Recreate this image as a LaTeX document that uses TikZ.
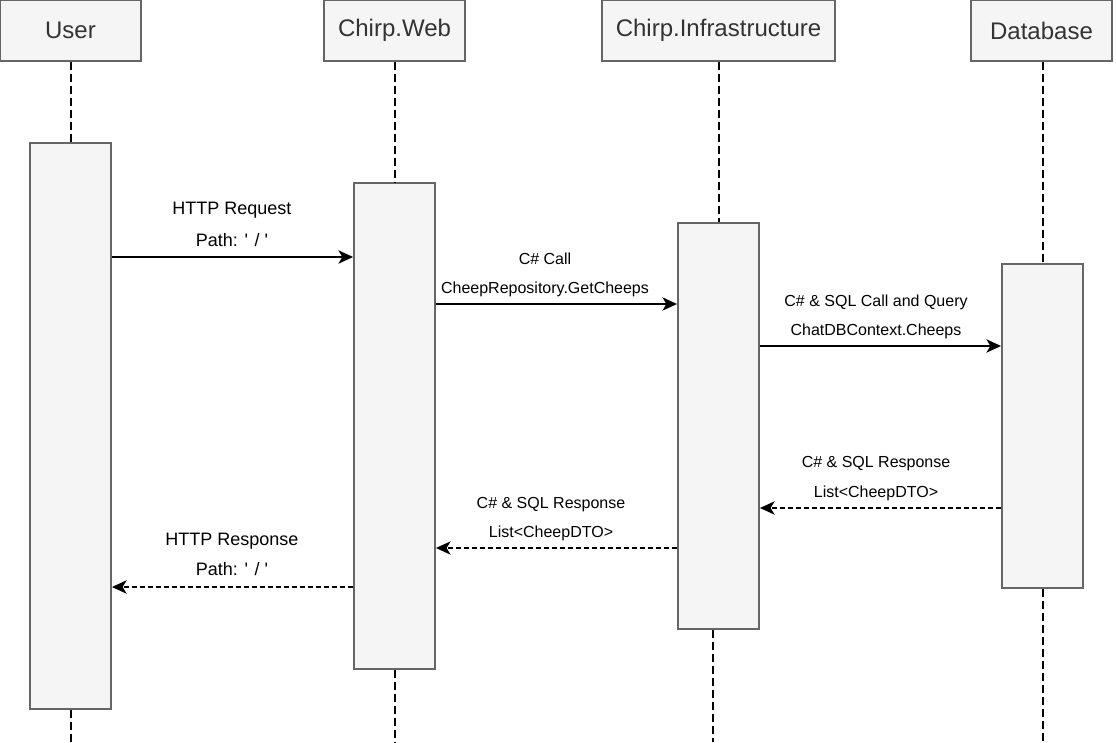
\documentclass[tikz,border=0pt]{standalone}
\usepackage{fontspec}
\setmainfont{Liberation Sans}
\usetikzlibrary{arrows.meta, positioning}
\definecolor{boxfill}{HTML}{F5F5F5}
\definecolor{boxline}{HTML}{666666}
\definecolor{headtext}{HTML}{333333}
\tikzset{
  x=0.75pt, y=-0.75pt,
  head/.style={draw=boxline, line width=1.4pt, fill=boxfill, text=headtext,
    inner sep=0pt, minimum width=105.75pt, minimum height=45.75pt,
    font=\fontsize{18}{21}\selectfont},
  bar/.style={draw=boxline, line width=1.4pt, fill=boxfill, inner sep=0pt,
    minimum width=60.75pt},
  lifeline/.style={line width=1.5pt, dash pattern=on 6pt off 3pt},
  msg/.style={-{Stealth[length=11pt, width=10pt, inset=3pt]}, line width=1.4pt},
  reply/.style={msg, dash pattern=on 3.75pt off 2.25pt},
  lbl/.style={font=\fontsize{12}{14}\selectfont, inner sep=0pt},
  biglbl/.style={font=\fontsize{13.5}{16}\selectfont, inner sep=0pt},
}
\newcommand{\rootpath}{Path: \textquotesingle{} / \textquotesingle}
\begin{document}
\begin{tikzpicture}
  \useasboundingbox (0,0) rectangle (1116,742);

  % participants
  \node[head]                           (user)  at (70.5,30.5)   {User};
  \node[head]                           (web)   at (394.5,30.5)  {Chirp.Web};
  \node[head, minimum width=174.75pt]   (infra) at (718.5,30.5)  {Chirp.Infrastructure};
  \node[head]                           (db)    at (1041.5,30.5) {Database};

  % activation bars
  \node[bar, minimum height=424.5pt] (userbar)  at (70.5,426)   {};
  \node[bar, minimum height=364.5pt] (webbar)   at (394.5,426)  {};
  \node[bar, minimum height=304.5pt] (infrabar) at (718.5,426)  {};
  \node[bar, minimum height=243pt]   (dbbar)    at (1042.5,426) {};

  % lifelines
  \coordinate (bottom) at (0,742);
  \coordinate (infralow) at (713,630);
  \draw[lifeline] (user.south)  -- (userbar.north)  (userbar.south) -- (userbar.south |- bottom);
  \draw[lifeline] (web.south)   -- (webbar.north)   (webbar.south)  -- (webbar.south |- bottom);
  \draw[lifeline] (infra.south) -- (infrabar.north) (infralow)      -- (infralow |- bottom);
  \draw[lifeline] (db.south -| dbbar.north) -- (dbbar.north) (dbbar.south) -- (dbbar.south |- bottom);

  % message heights
  \coordinate (req)   at (0,257);
  \coordinate (call)  at (0,304);
  \coordinate (query) at (0,346);
  \coordinate (dbres) at (0,508);
  \coordinate (res)   at (0,548);
  \coordinate (http)  at (0,587);

  % calls
  \draw[msg] (userbar.east |- req) -- (webbar.west |- req);
  \node[biglbl] (reqa) at (232,210) {HTTP Request};
  \node[biglbl] (reqb) at (232,240) {\rootpath};

  \draw[msg] (webbar.east |- call) -- (infrabar.west |- call);
  \node[lbl] (calla) at (545,259) {C\# Call};
  \node[lbl] (callb) at (545,289) {CheepRepository.GetCheeps};

  \draw[msg] (infrabar.east |- query) -- (dbbar.west |- query);
  \node[lbl] (querya) at (876,302) {C\# \& SQL Call and Query};
  \node[lbl] (queryb) at (876,331) {ChatDBContext.Cheeps};

  % responses
  \draw[reply] (dbbar.west |- dbres) -- (infrabar.east |- dbres);
  \node[lbl] (dbresa) at (876,464) {C\# \& SQL Response};
  \node[lbl] (dbresb) at (876,493) {List<CheepDTO>};

  \draw[reply] (infrabar.west |- res) -- (webbar.east |- res);
  \node[lbl] (resa) at (551,505) {C\# \& SQL Response};
  \node[lbl] (resb) at (551,533) {List<CheepDTO>};

  \draw[reply] (webbar.west |- http) -- (userbar.east |- http);
  \node[biglbl] (httpa) at (232,541) {HTTP Response};
  \node[biglbl] (httpb) at (232,569) {\rootpath};
\end{tikzpicture}
\end{document}
